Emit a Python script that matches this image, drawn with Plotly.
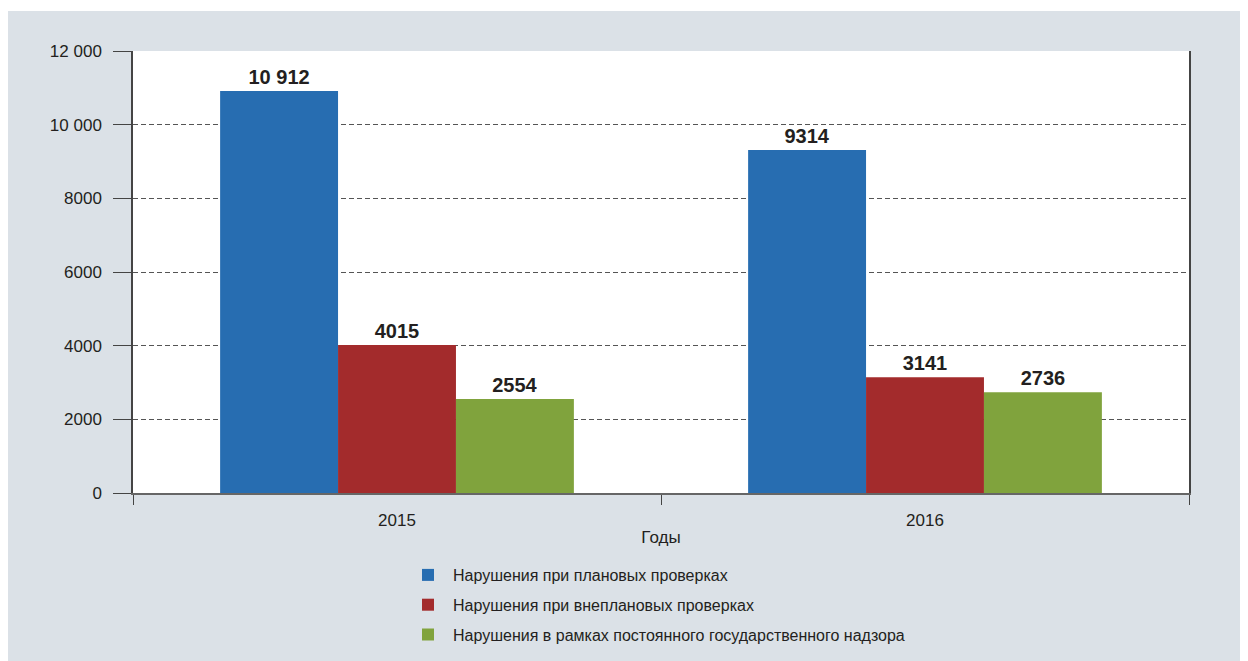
import plotly.graph_objects as go

years = ["2015", "2016"]
series_names = [
    "Нарушения при плановых проверках",
    "Нарушения при внеплановых проверках",
    "Нарушения в рамках постоянного государственного надзора",
]
planned = [10912, 9314]
unplanned = [4015, 3141]
permanent = [2554, 2736]
planned_labels = ["10 912", "9314"]
unplanned_labels = ["4015", "3141"]
permanent_labels = ["2554", "2736"]
colors = ["#276db1", "#a32b2c", "#80a33d"]

y_ticks = [0, 2000, 4000, 6000, 8000, 10000, 12000]
y_ticktext = ["0", "2000", "4000", "6000", "8000", "10 000", "12 000"]

FONT = "Liberation Sans Narrow, Liberation Sans, Arial, sans-serif"
GREY = "#dbe1e7"
INK = "#231f20"

fig = go.Figure()
for i, (name, vals, labs) in enumerate(zip(
        series_names, [planned, unplanned, permanent],
        [planned_labels, unplanned_labels, permanent_labels])):
    fig.add_trace(go.Bar(
        x=years, y=vals, name=name, text=labs,
        textposition="outside", cliponaxis=False,
        textfont=dict(family=FONT, size=20, color=INK, weight="bold"),
        marker=dict(color=colors[i], line=dict(width=0)),
        legendgroup=f"g{i}",
    ))

# figure is placed by the page at an 8px offset
W, H = 1240, 653
L, R, T, B = 125, 59, 43, 168
pw, ph = W - L - R, H - T - B

def px_x(p):
    return (p - L) / pw

def px_y(p):
    return (H - B - p) / ph

shapes = [
    dict(type="rect", xref="paper", yref="paper", x0=px_x(0), x1=px_x(W), y0=px_y(3), y1=px_y(0),
         fillcolor="white", line=dict(width=0), layer="below"),
]

fig.update_layout(
    width=W, height=H,
    margin=dict(l=L, r=R, t=T, b=B, autoexpand=False),
    paper_bgcolor=GREY, plot_bgcolor="white",
    barmode="group", bargap=0.33, bargroupgap=0,
    font=dict(family=FONT, size=16, color=INK),
    shapes=shapes,
    showlegend=True,
    legend=dict(
        x=px_x(395), y=px_y(550), xanchor="left", yanchor="top",
        orientation="v", bgcolor="rgba(0,0,0,0)",
        font=dict(family=FONT, size=16, color=INK),
        tracegroupgap=6, itemwidth=40,
    ),
    xaxis=dict(
        type="category", showline=True, linecolor="#666", linewidth=1.5,
        ticks="outside", tickson="boundaries", ticklen=10, tickcolor="#444",
        showgrid=False, tickfont=dict(size=17), ticklabelstandoff=11,
        title=dict(text="Годы", font=dict(size=17), standoff=2),
    ),
    yaxis=dict(
        range=[0, 12000], tickvals=y_ticks, ticktext=y_ticktext,
        showline=True, mirror=True, linecolor="#444", linewidth=1.5,
        ticks="outside", ticklen=18, tickcolor="#444",
        ticklabelstandoff=8,
        showgrid=True, gridcolor="#555", griddash="5px,3px", gridwidth=1,
        zeroline=False, tickfont=dict(size=17),
    ),
)

fig.write_html("out.html")
